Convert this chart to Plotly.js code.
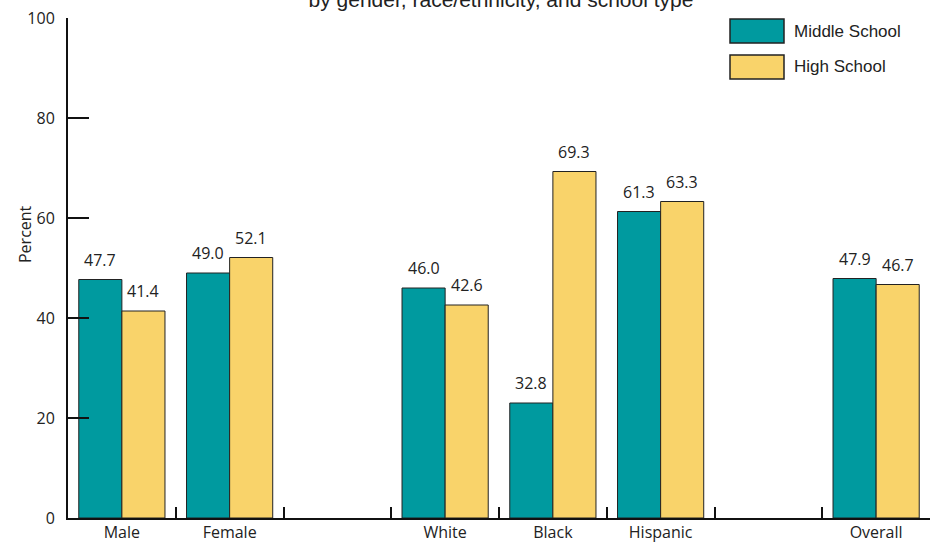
<!DOCTYPE html>
<html>
<head>
<meta charset="utf-8">
<script src="https://cdn.plot.ly/plotly-3.0.1.min.js"></script>
<style>html,body{margin:0;padding:0;background:#fff;}#chart{width:932px;height:543px;}</style>
</head>
<body>
<div id="chart"></div>
<script>
const categories = ["Male", "Female", " ", "White", "Black", "Hispanic", "  ", "Overall"];
const middleSchool = [47.7, 49.0, null, 46.0, 23.0, 61.3, null, 47.9];
const highSchool = [41.4, 52.1, null, 42.6, 69.3, 63.3, null, 46.7];
const middleLabels = ["47.7", "49.0", "", "46.0", "32.8", "61.3", "", "47.9"];
const highLabels = ["41.4", "52.1", "", "42.6", "69.3", "63.3", "", "46.7"];
const yTicks = [0, 20, 40, 60, 80, 100];
const seriesNames = ["Middle School", "High School"];
const seriesColors = ["rgb(0,154,159)", "rgb(249,211,106)"];

const W = 932, H = 543;
const margin = {l: 68, r: 2, t: 18, b: 25, pad: 0};
const bargap = 0.2;
const plotW = W - margin.l - margin.r;
const slotW = plotW / categories.length;
const barW = slotW * (1 - bargap) / 2;

const numFont = "'Open Sans', sans-serif";
const txtFont = "'Liberation Sans', Arial, sans-serif";

const traces = [middleSchool, highSchool].map((vals, i) => ({
  type: "bar",
  name: seriesNames[i],
  x: categories,
  y: vals,
  marker: {color: seriesColors[i], line: {color: "#222", width: 1}},
  hoverinfo: "x+y+name",
  showlegend: false
}));

const annotations = [];
[[middleSchool, middleLabels, -1], [highSchool, highLabels, 1]].forEach(([vals, labs, side]) => {
  vals.forEach((v, j) => {
    if (v === null) return;
    annotations.push({
      x: categories[j], y: v, xref: "x", yref: "y",
      text: labs[j], showarrow: false,
      xanchor: "center", yanchor: "bottom",
      xshift: side * barW / 2, yshift: 7,
      font: {family: numFont, size: 16, color: "#222"}
    });
  });
});

// Y axis label
annotations.push({
  text: "Percent", xref: "paper", yref: "paper",
  x: (25 - margin.l) / plotW, y: (H - margin.b - 234) / (H - margin.t - margin.b),
  xanchor: "center", yanchor: "middle", textangle: -90, showarrow: false,
  font: {family: numFont, size: 16, color: "#222"}
});

// Custom legend
const plotH = H - margin.t - margin.b;
const px = (x) => (x - margin.l) / plotW;
const py = (y) => (H - margin.b - y) / plotH;
const legendRows = [[19, 43], [55, 79]];
const shapes = legendRows.map((r, i) => ({
  type: "rect", xref: "paper", yref: "paper",
  x0: px(730), x1: px(784), y0: py(r[1]), y1: py(r[0]),
  fillcolor: seriesColors[i], line: {color: "#222", width: 1.5}
}));
legendRows.forEach((r, i) => {
  annotations.push({
    text: seriesNames[i], xref: "paper", yref: "paper",
    x: px(792), y: py((r[0] + r[1]) / 2), xanchor: "left", yanchor: "middle",
    showarrow: false, font: {family: txtFont, size: 17, color: "#222"}
  });
});

const layout = {
  width: W, height: H, margin: margin,
  paper_bgcolor: "#fff", plot_bgcolor: "#fff",
  barmode: "group", bargap: bargap, bargroupgap: 0,
  showlegend: false,
  title: {
    text: "by gender, race/ethnicity, and school type",
    x: 501 / W, xanchor: "center", xref: "container",
    y: 1, yanchor: "middle", yref: "container",
    font: {family: txtFont, size: 21, color: "#222"}
  },
  xaxis: {
    type: "category", categoryorder: "array", categoryarray: categories,
    range: [-0.5, categories.length - 0.5],
    tickson: "boundaries", ticks: "inside", ticklen: 11, tickwidth: 2, tickcolor: "#111",
    showline: true, linewidth: 2, linecolor: "#111", showgrid: false, zeroline: false,
    tickfont: {family: numFont, size: 16, color: "#222"}, ticklabelstandoff: -1,
    fixedrange: true
  },
  yaxis: {
    range: [0, 100], tickvals: yTicks, ticktext: yTicks.map(String),
    ticks: "inside", ticklen: 21, tickwidth: 2, tickcolor: "#111",
    showline: true, linewidth: 2, linecolor: "#111", showgrid: false, zeroline: false,
    tickfont: {family: numFont, size: 16, color: "#222"}, ticklabelstandoff: 8,
    fixedrange: true
  },
  annotations: annotations,
  shapes: shapes
};

Plotly.newPlot("chart", traces, layout, {displayModeBar: false, staticPlot: true});
</script>
</body>
</html>
